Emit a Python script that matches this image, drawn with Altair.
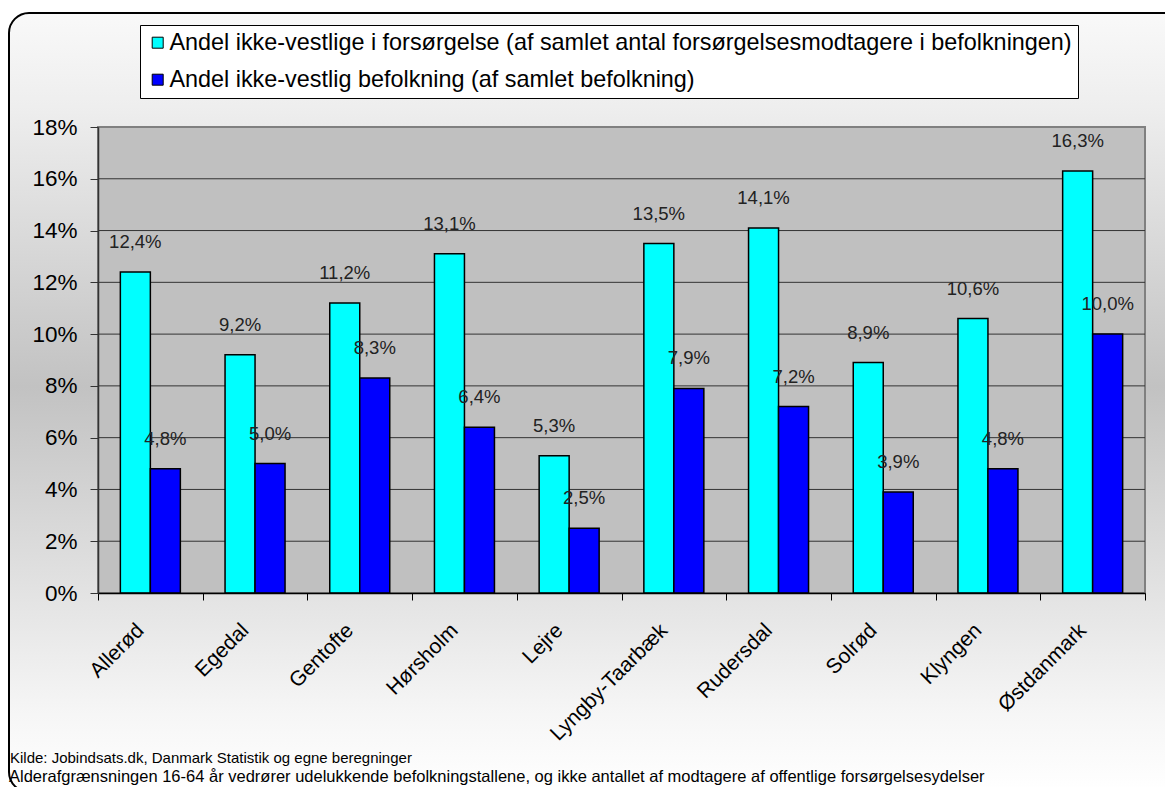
import altair as alt
import pandas as pd

# ---- data ----
kommuner = ["Allerød", "Egedal", "Gentofte", "Hørsholm", "Lejre",
            "Lyngby-Taarbæk", "Rudersdal", "Solrød", "Klyngen", "Østdanmark"]
serier = [
    "Andel ikke-vestlige i forsørgelse (af samlet antal forsørgelsesmodtagere i befolkningen)",
    "Andel ikke-vestlig befolkning (af samlet befolkning)",
]
forsorgelse = [12.4, 9.2, 11.2, 13.1, 5.3, 13.5, 14.1, 8.9, 10.6, 16.3]
befolkning = [4.8, 5.0, 8.3, 6.4, 2.5, 7.9, 7.2, 3.9, 4.8, 10.0]
farver = ["#00FFFF", "#0000FF"]
y_ticks = [0, 2, 4, 6, 8, 10, 12, 14, 16, 18]
kilde = "Kilde: Jobindsats.dk, Danmark Statistik og egne beregninger"
note = ("Alderafgrænsningen 16-64 år vedrører udelukkende befolkningstallene, "
        "og ikke antallet af modtagere af offentlige forsørgelsesydelser")

rows = []
for k, a, b in zip(kommuner, forsorgelse, befolkning):
    for s, v in zip(serier, (a, b)):
        rows.append({"Kommune": k, "Serie": s, "Andel": v,
                     "Label": f"{v:.1f}".replace(".", ",") + "%"})
df = pd.DataFrame(rows)

W, H = 1047, 466
SANS = "Liberation Sans, Arial, sans-serif"

y_axis = alt.Axis(values=y_ticks, labelExpr="datum.value + '%'", title=None,
                  labelFont=SANS, labelFontSize=22.5, labelColor="black",
                  labelPadding=13, tickSize=8, tickColor="#333333",
                  domainColor="#333333", domainWidth=1.5, grid=False, zindex=1)
y_enc = alt.Y("Andel:Q", scale=alt.Scale(domain=[0, 18], nice=False), axis=y_axis)

x_axis = alt.Axis(title=None, labelAngle=-45, labelAlign="right",
                  labelBaseline="middle", labelFont=SANS, labelFontSize=21,
                  labelColor="black", labelPadding=27, labelOffset=-10,
                  tickSize=7, tickColor="black", domainColor="black",
                  domainWidth=1.5, tickBand="extent", grid=False, zindex=1,
                  labelLimit=400)
x_enc = alt.X("Kommune:N", sort=kommuner,
              scale=alt.Scale(paddingInner=0, paddingOuter=0), axis=x_axis)
xo_enc = alt.XOffset("Serie:N", sort=serier,
                     scale=alt.Scale(paddingInner=0, paddingOuter=0.745))

one = alt.Data(values=[{}])

grad = alt.LinearGradient(
    gradient="linear", x1=0, x2=0, y1=0, y2=1,
    stops=[alt.GradientStop(color="#f9f9f9", offset=0),
           alt.GradientStop(color="#eeeeee", offset=0.12),
           alt.GradientStop(color="#c2c2c2", offset=0.48),
           alt.GradientStop(color="#f6f6f6", offset=0.9),
           alt.GradientStop(color="#ffffff", offset=1)])

frame = alt.Chart(one).mark_rect(cornerRadius=20, stroke="black", strokeWidth=2,
                                 fill=grad).encode(
    x=alt.value(-89), x2=alt.value(1090), y=alt.value(-114), y2=alt.value(665))

plotbg = alt.Chart(one).mark_rect(fill="#C0C0C0", stroke="#808080",
                                  strokeWidth=2).encode(
    x=alt.value(0), x2=alt.value(W), y=alt.value(0), y2=alt.value(H))

grid = alt.Chart(pd.DataFrame({"Andel": y_ticks[1:-1]})).mark_rule(
    color="#333333", strokeWidth=1).encode(y=y_enc)

bars = alt.Chart(df).mark_bar(stroke="black", strokeWidth=1.5).encode(
    x=x_enc, xOffset=xo_enc, y=y_enc,
    color=alt.Color("Serie:N", sort=serier,
                    scale=alt.Scale(domain=serier, range=farver),
                    legend=alt.Legend(orient="none", legendX=42, legendY=-102,
                                      title=None, symbolType="square",
                                      symbolSize=121, symbolStrokeColor="black",
                                      symbolStrokeWidth=1, labelFont=SANS,
                                      labelFontSize=23.4, labelColor="black",
                                      labelLimit=2000, fillColor="white",
                                      strokeColor="black", padding=6,
                                      rowPadding=12, labelOffset=0,
                                      direction="vertical")))

labels = alt.Chart(df).mark_text(font=SANS, fontSize=18.5, color="#222222",
                                 baseline="alphabetic", align="center",
                                 dy=-24).encode(
    x=x_enc, xOffset=xo_enc, y=y_enc, text="Label:N")

foot1 = alt.Chart(one).mark_text(font=SANS, fontSize=15, color="black",
                                 align="left", baseline="alphabetic").encode(
    x=alt.value(-88), y=alt.value(636), text=alt.value(kilde))
foot2 = alt.Chart(one).mark_text(font=SANS, fontSize=16.5, color="black",
                                 align="left", baseline="alphabetic").encode(
    x=alt.value(-89), y=alt.value(655), text=alt.value(note))

chart = alt.layer(frame, plotbg, grid, bars, labels, foot1, foot2).properties(
    width=W, height=H,
    padding={"left": 90, "top": 119, "right": 20, "bottom": 194},
    autosize=alt.AutoSizeParams(type="none"),
    background="white",
).configure_view(stroke=None)

chart.save("out.html", embed_options={"renderer": "svg", "actions": False})
